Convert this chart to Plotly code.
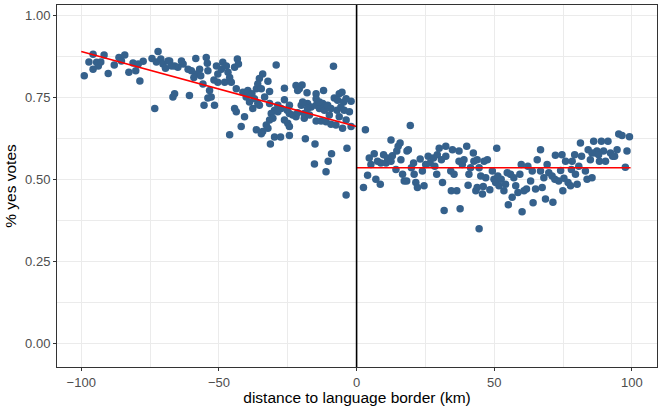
import plotly.graph_objects as go

# distance (km) and share of yes votes, left of border
left_km = [-98.9,-97.2,-95.7,-95.7,-94.4,-93.8,-92.9,-91.7,-90.2,-88.0,-86.3,-85.4,-84.2,-82.7,-81.2,-80.2,-79.3,-78.7,-77.5,-74.3,
           -72.1,-72.7,-71.1,-70.3,-69.4,-68.5,-73.3,-66.7,-66.1,-60.7,-58.4,-57.0,-55.8,-55.4,-54.6,-54.2,-54.0,-53.4,-52.8,-51.6,
           -51.8,-50.9,-50.4,-63.0,-63.6,-64.9,-66.1,-67.9,-67.2,-61.2,-60.0,-58.2,-56.6,-59.1,-54.0,
           -50.4,-49.1,-48.6,-47.9,-47.3,-46.7,-46.1,-45.5,-44.3,-43.3,-42.9,-43.7,-44.3,-43.7,-46.1,-41.9,-40.7,-41.3,-40.1,-39.5,
           -38.9,-38.0,-37.7,-37.1,-36.4,-35.9,-36.4,
           -29.2,-8.4,-34.1,-35.3,-32.2,-35.9,-34.6,-31.6,-33.4,-35.3,-26.2,-26.2,-22.0,-20.8,-19.8,-21.4,-18.0,-14.7,-12.0,-8.1,
           -6.3,-5.3,-6.9,-4.7,-2.0,-3.8,-27.4,-29.8,-28.6,-25.2,-24.4,-23.2,-22.0,-20.1,-17.8,-16.5,-14.7,-13.5,-12.3,-11.7,
           -10.5,-9.3,-9.9,-7.1,-5.7,-4.5,-2.6,-6.3,-19.0,-19.0,-17.1,-14.7,-12.9,-11.1,-9.3,-7.5,-5.1,-3.8,-2.0,-31.0,
           -30.4,-31.6,-32.8,-32.2,-34.1,-34.6,-26.2,-25.0,-24.4,-29.8,-27.6,-24.4,-31.3,-18.6,-15.1,-3.5,-9.1,-10.3,-15.3,-11.1,
           -3.8,-21.4,-14.7,-13.5,-19.6,-17.8,-24.4,-28.6,-31.6]
left_yes = [0.816,0.858,0.882,0.836,0.857,0.846,0.858,0.879,0.823,0.849,0.872,0.861,0.879,0.827,0.855,0.831,0.852,0.800,0.860,0.869,
            0.890,0.858,0.867,0.852,0.839,0.861,0.716,0.751,0.761,0.756,0.869,0.836,0.791,0.726,0.872,0.854,0.831,0.771,0.751,0.726,
            0.803,0.846,0.796,0.852,0.861,0.842,0.846,0.861,0.846,0.836,0.831,0.821,0.816,0.811,0.748,
            0.821,0.836,0.857,0.796,0.846,0.827,0.811,0.796,0.842,0.867,0.852,0.776,0.716,0.706,0.636,0.661,0.691,0.766,0.751,0.771,
            0.736,0.761,0.716,0.746,0.651,0.731,0.776,
            0.849,0.845,0.821,0.808,0.799,0.791,0.776,0.768,0.751,0.726,0.778,0.743,0.786,0.776,0.788,0.771,0.764,0.761,0.771,0.748,
            0.761,0.766,0.741,0.736,0.738,0.746,0.716,0.711,0.706,0.711,0.701,0.696,0.691,0.726,0.731,0.721,0.726,0.716,0.731,0.711,
            0.726,0.716,0.696,0.711,0.721,0.711,0.706,0.691,0.701,0.686,0.696,0.678,0.678,0.676,0.668,0.666,0.656,0.681,0.661,0.701,
            0.686,0.681,0.666,0.656,0.646,0.639,0.681,0.671,0.661,0.629,0.629,0.634,0.608,0.624,0.608,0.595,0.578,0.555,0.547,0.523,
            0.452,0.703,0.746,0.736,0.736,0.716,0.726,0.726,0.731]

# right of border
right_km = [3.2,2.5,4.0,4.6,5.2,6.4,7.0,8.6,7.6,8.8,9.8,10.7,11.2,12.5,12.5,13.0,14.3,14.6,15.1,15.8,
            16.1,16.7,17.3,18.2,18.3,18.8,19.5,19.9,20.7,20.9,21.5,22.1,23.1,23.9,24.5,25.1,26.0,26.7,27.9,28.4,
            29.1,29.3,30.0,30.8,31.2,31.8,32.4,32.4,
            34.8,34.2,35.4,34.4,36.4,37.6,37.2,37.2,38.4,40.0,40.5,40.8,41.4,42.4,42.6,43.3,43.8,44.5,45.1,45.7,
            46.0,46.3,46.9,47.5,48.4,49.3,49.9,50.5,50.9,51.3,51.7,52.5,53.5,54.1,54.7,55.1,55.9,56.5,57.1,57.8,
            58.6,59.3,59.8,60.1,60.8,61.7,62.2,63.2,63.8,64.1,65.0,65.6,44.5,39.0,43.8,
            66.8,66.8,67.4,68.6,71.3,68.0,69.2,69.8,71.0,72.0,72.2,73.4,74.1,74.6,74.9,75.3,75.9,76.8,77.7,78.0,
            78.3,79.2,79.5,80.1,80.7,81.3,81.7,83.1,83.7,84.1,84.9,85.5,86.1,86.7,87.3,88.2,88.9,89.7,90.4,91.3,
            92.2,93.0,93.7,94.6,95.2,96.4,99.1,98.2,97.6,87.9,85.5]
right_yes = [0.651,0.475,0.512,0.565,0.545,0.578,0.500,0.485,0.555,0.550,0.575,0.550,0.565,0.620,0.555,0.572,0.530,0.586,0.601,0.611,
             0.560,0.515,0.495,0.495,0.586,0.590,0.664,0.535,0.550,0.515,0.490,0.475,0.562,0.525,0.480,0.545,0.570,0.550,0.565,0.540,
             0.515,0.575,0.595,0.560,0.490,0.405,0.601,0.570,
             0.590,0.525,0.515,0.465,0.465,0.410,0.586,0.555,0.545,0.601,0.482,0.515,0.535,0.580,0.555,0.465,0.475,0.535,0.510,0.455,
             0.478,0.555,0.505,0.560,0.468,0.525,0.500,0.490,0.595,0.510,0.480,0.500,0.465,0.485,0.520,0.422,0.515,0.445,0.505,0.480,
             0.460,0.515,0.545,0.401,0.465,0.470,0.540,0.495,0.525,0.428,0.470,0.560,0.349,0.560,0.560,
             0.590,0.525,0.475,0.440,0.430,0.505,0.545,0.520,0.510,0.500,0.573,0.495,0.527,0.575,0.465,0.503,0.555,0.490,0.480,0.530,
             0.555,0.575,0.515,0.485,0.540,0.611,0.570,0.525,0.500,0.590,0.560,0.505,0.616,0.580,0.586,0.555,0.616,0.586,0.555,0.616,
             0.580,0.570,0.570,0.590,0.638,0.634,0.630,0.586,0.537,0.575,0.580]

# fitted lines
fit_left_km = [-100, 0]
fit_left_yes = [0.890, 0.661]
fit_right_km = [0, 99.5]
fit_right_yes = [0.535, 0.535]

x_ticks = [-100, -50, 0, 50, 100]
y_ticks = [0, 0.25, 0.5, 0.75, 1.0]

dot = "#35618C"
fig = go.Figure()
fig.add_trace(go.Scatter(x=left_km + right_km, y=left_yes + right_yes, mode="markers",
                         marker=dict(color=dot, size=7.5, line=dict(width=0)), showlegend=False))
fig.add_trace(go.Scatter(x=fit_left_km, y=fit_left_yes, mode="lines",
                         line=dict(color="#FF0000", width=1.6), showlegend=False))
fig.add_trace(go.Scatter(x=fit_right_km, y=fit_right_yes, mode="lines",
                         line=dict(color="#FF0000", width=1.6), showlegend=False))
fig.add_vline(x=0, line=dict(color="black", width=1.6))

axis_common = dict(showline=True, mirror=True, linecolor="#333333", linewidth=1,
                   ticks="outside", ticklen=3, tickcolor="#333333", tickwidth=1,
                   showgrid=True, gridcolor="#EBEBEB", gridwidth=1, zeroline=False,
                   tickfont=dict(family="Liberation Sans, Arial", size=13, color="#4D4D4D"))

fig.update_layout(
    width=660, height=406,
    margin=dict(l=57, r=2, t=5, b=34),
    paper_bgcolor="white", plot_bgcolor="white",
    font=dict(family="Liberation Sans, Arial", color="black"),
    xaxis=dict(range=[-108.8, 109.1], tickvals=x_ticks,
               title=dict(text="distance to language border (km)", font=dict(size=15.5), standoff=4),
               minor=dict(tickvals=[-75, -25, 25, 75], showgrid=True, gridcolor="#EBEBEB", gridwidth=0.5, ticks=""),
               **axis_common),
    yaxis=dict(range=[-0.073, 1.032], tickvals=y_ticks, tickformat=".2f",
               title=dict(text="% yes votes", font=dict(size=15.5), standoff=4),
               minor=dict(tickvals=[0.125, 0.375, 0.625, 0.875], showgrid=True, gridcolor="#EBEBEB", gridwidth=0.5, ticks=""),
               **axis_common),
)
fig.write_html("out.html")
